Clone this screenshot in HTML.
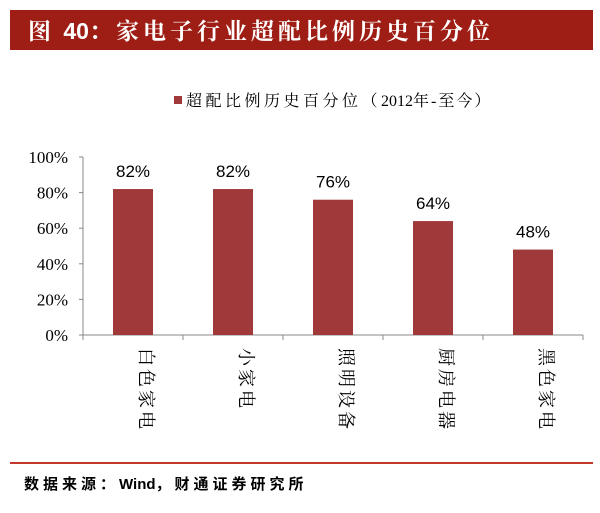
<!DOCTYPE html>
<html><head><meta charset="utf-8"><style>
body{margin:0;width:600px;height:508px;background:#fff;overflow:hidden;font-family:"Liberation Sans","Noto Sans CJK SC",sans-serif;}
</style></head><body>
<svg width="600" height="508">
<rect x="10" y="10" width="583" height="40" fill="#9e1d14"/>
<text x="28" y="39" fill="#fff" font-size="23" font-weight="bold" font-family="Liberation Sans,Noto Serif CJK SC,serif"><tspan letter-spacing="3">图 </tspan><tspan>40</tspan><tspan letter-spacing="4">：家电子行业超配比例历史百分位</tspan></text>
<rect x="174" y="96" width="8" height="8" fill="#a03a3a"/>
<text x="186" y="106" font-size="16" font-family="Liberation Serif,Noto Serif CJK SC,serif" fill="#000"><tspan letter-spacing="3.5">超配比例历史百分位（</tspan><tspan>2012</tspan><tspan letter-spacing="2">年-至今）</tspan></text>
<g id="axes"></g>
<g id="bars"></g>
<line x1="10" y1="463" x2="593" y2="463" stroke="#c0392b" stroke-width="2"/>
<text x="24" y="489" font-size="15" font-weight="bold" fill="#000"><tspan letter-spacing="4">数据来源：</tspan><tspan>Wind</tspan><tspan letter-spacing="4">，财通证券研究所</tspan></text>
</svg>
<script>
const categories=["白色家电","小家电","照明设备","厨房电器","黑色家电"];
const values=[82,82,76,64,48];
const ticks=[0,20,40,60,80,100];
const NS="http://www.w3.org/2000/svg";
const x0=83,x1=583,yTop=157,yBot=335;
const cw=(x1-x0)/categories.length;
function y(v){return yBot-(v/100)*(yBot-yTop);}
function xc(i){return x0+cw*(i+0.5);}
function mk(tag,attrs,parent){const e=document.createElementNS(NS,tag);for(const k in attrs)e.setAttribute(k,attrs[k]);parent.appendChild(e);return e;}
const ax=document.getElementById('axes'),bg=document.getElementById('bars');
let l=mk('line',{x1:x0,y1:yTop,x2:x0,y2:yBot,stroke:'#888'},ax);


l=mk('line',{x1:x0,y1:yBot,x2:x1,y2:yBot,stroke:'#888'},ax);


ticks.forEach(t=>{
  const tk=mk('line',{x1:x0-4,y1:y(t),x2:x0,y2:y(t),stroke:'#888'},ax);
  
  
  const tx=mk('text',{x:x0-15,y:y(t)+6,'text-anchor':'end','font-size':17,'font-family':'Liberation Serif,serif'},ax);
  tx.textContent=t+'%';
  
  
});
for(let i=0;i<=categories.length;i++){
  const tk=mk('line',{x1:x0+cw*i,y1:yBot,x2:x0+cw*i,y2:yBot+5,stroke:'#888'},ax);
  
  
}
categories.forEach((c,i)=>{
  const b=mk('rect',{x:xc(i)-20,y:y(values[i]),width:40,height:yBot-y(values[i]),fill:'#a03a3a'},bg);
  
  
  const v=mk('text',{x:xc(i),y:y(values[i])-12,'text-anchor':'middle','font-size':17},bg);
  v.textContent=values[i]+'%';
  
  
  const t=mk('text',{transform:`translate(${xc(i)+7},${yBot+13}) rotate(90)`,'font-size':18,'letter-spacing':3,'font-family':'Noto Serif CJK SC,serif',fill:'#000'},bg);
  t.textContent=c;
  
  
});
</script>
</body></html>
